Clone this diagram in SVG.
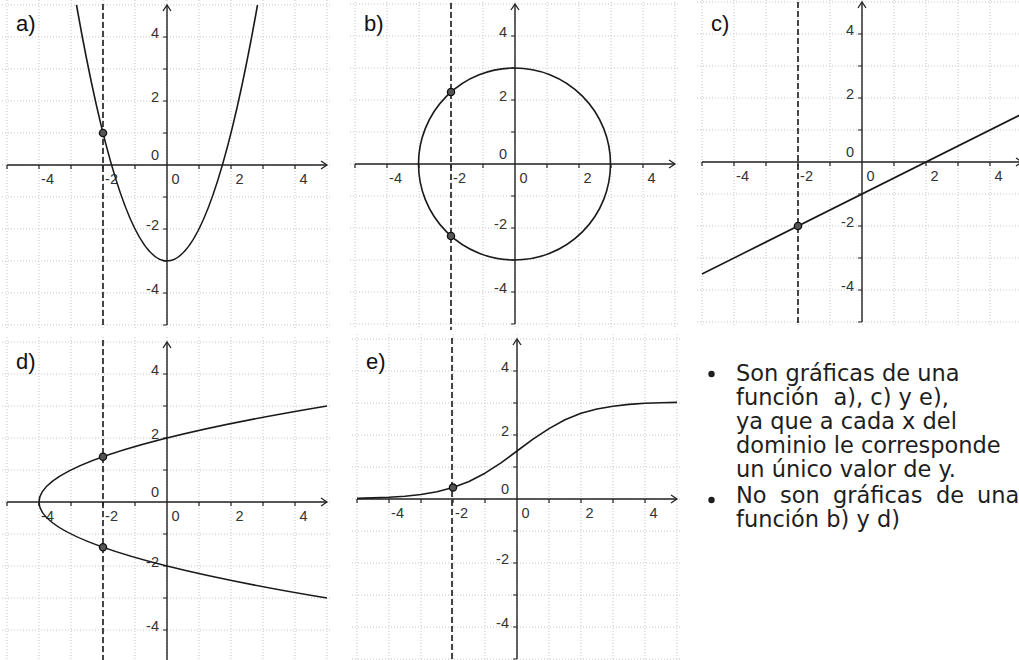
<svg xmlns="http://www.w3.org/2000/svg" width="1019" height="660" viewBox="0 0 1019 660">
<style>
.grid{fill:none;stroke:#c6c6c6;stroke-width:1;stroke-dasharray:1 2}
.axis{fill:none;stroke:#222;stroke-width:1.4}
.tick{fill:none;stroke:#222;stroke-width:1.2}
.curve{fill:none;stroke:#1a1a1a;stroke-width:1.6;stroke-linejoin:round}
.dash{fill:none;stroke:#1a1a1a;stroke-width:1.6;stroke-dasharray:6 3}
.pt{fill:#555;stroke:#111;stroke-width:1.3}
.num{font-family:"Liberation Sans",Arial,sans-serif;font-size:14.5px;fill:#333}
.xn{text-anchor:middle}
.yn{text-anchor:end}
.lbl{font-family:"Liberation Sans",Arial,sans-serif;font-size:22px;fill:#111}
.txt{font-family:"DejaVu Sans",Verdana,sans-serif;font-size:22.5px;fill:#1e1e1e}
.bul{fill:#1e1e1e}
</style>
<defs>
<marker id="arr" markerWidth="10" markerHeight="10" refX="7" refY="5" orient="auto" markerUnits="userSpaceOnUse">
<path d="M1,1 L7,5 L1,9" fill="none" stroke="#222" stroke-width="1.3"/>
</marker>
<g id="frame">
<path class="grid" d="M-160-165V165M-128-165V165M-96-165V165M-64-165V165M-32-165V165M0-165V165M32-165V165M64-165V165M96-165V165M128-165V165M160-165V165M-165-160H165M-165-128H165M-165-96H165M-165-64H165M-165-32H165M-165 0H165M-165 32H165M-165 64H165M-165 96H165M-165 128H165M-165 160H165"/>
<path class="axis" d="M-160 0H160" marker-end="url(#arr)"/>
<path class="axis" d="M0 160V-160" marker-end="url(#arr)"/>
<path class="tick" d="M-160 0v4M-128 0v4M-96 0v4M-64 0v4M-32 0v4M32 0v4M64 0v4M96 0v4M128 0v4M0 160h-4M0 128h-4M0 96h-4M0 64h-4M0 32h-4M0-32h-4M0-64h-4M0-96h-4M0-128h-4"/>
</g>
</defs>
<rect width="1019" height="660" fill="#fff"/>

<g id="panel-a">
<use href="#frame" transform="translate(167,165)"/>
<text class="lbl" x="16" y="31">a)</text>
<g class="num xn"><text x="47.5" y="184">-4</text><text x="111.5" y="184">-2</text><text x="175.5" y="184">0</text><text x="239.5" y="184">2</text><text x="303.5" y="184">4</text></g>
<g class="num yn"><text x="159" y="38">4</text><text x="159" y="102">2</text><text x="159" y="160">0</text><text x="159" y="230">-2</text><text x="159" y="294">-4</text></g>
<path class="dash" d="M103 4V327"/>
<path class="curve" d="M76.5 5Q167 517 257.5 5"/>
<circle class="pt" cx="103" cy="133" r="3.6"/>
</g>

<g id="panel-b">
<use href="#frame" transform="translate(515,164)"/>
<text class="lbl" x="364" y="31">b)</text>
<g class="num xn"><text x="395.5" y="183">-4</text><text x="459.5" y="183">-2</text><text x="523.5" y="183">0</text><text x="587.5" y="183">2</text><text x="651.5" y="183">4</text></g>
<g class="num yn"><text x="507" y="37">4</text><text x="507" y="101">2</text><text x="507" y="159">0</text><text x="507" y="229">-2</text><text x="507" y="293">-4</text></g>
<path class="dash" d="M451 3V330"/>
<circle class="curve" cx="514.5" cy="164" r="96"/>
<circle class="pt" cx="451" cy="92" r="3.6"/>
<circle class="pt" cx="451" cy="236" r="3.6"/>
</g>

<g id="panel-c">
<use href="#frame" transform="translate(862,162)"/>
<text class="lbl" x="711" y="31">c)</text>
<g class="num xn"><text x="742.5" y="181">-4</text><text x="806.5" y="181">-2</text><text x="870.5" y="181">0</text><text x="934.5" y="181">2</text><text x="998.5" y="181">4</text></g>
<g class="num yn"><text x="854" y="35">4</text><text x="854" y="99">2</text><text x="854" y="157">0</text><text x="854" y="227">-2</text><text x="854" y="291">-4</text></g>
<path class="dash" d="M798 2V326"/>
<path class="curve" d="M702 274L1022 114"/>
<circle class="pt" cx="798" cy="226" r="3.6"/>
</g>

<g id="panel-d">
<use href="#frame" transform="translate(167,502)"/>
<text class="lbl" x="16" y="369">d)</text>
<g class="num xn"><text x="47.5" y="521">-4</text><text x="111.5" y="521">-2</text><text x="175.5" y="521">0</text><text x="239.5" y="521">2</text><text x="303.5" y="521">4</text></g>
<g class="num yn"><text x="159" y="375">4</text><text x="159" y="439">2</text><text x="159" y="497">0</text><text x="159" y="567">-2</text><text x="159" y="631">-4</text></g>
<path class="dash" d="M103 340V660"/>
<path class="curve" d="M327 406Q-249 502 327 598"/>
<circle class="pt" cx="103" cy="456.7" r="3.6"/>
<circle class="pt" cx="103" cy="547.3" r="3.6"/>
</g>

<g id="panel-e">
<use href="#frame" transform="translate(517,499)"/>
<text class="lbl" x="366" y="369">e)</text>
<g class="num xn"><text x="397.5" y="518">-4</text><text x="461.5" y="518">-2</text><text x="525.5" y="518">0</text><text x="589.5" y="518">2</text><text x="653.5" y="518">4</text></g>
<g class="num yn"><text x="509" y="372">4</text><text x="509" y="436">2</text><text x="509" y="494">0</text><text x="509" y="564">-2</text><text x="509" y="628">-4</text></g>
<path class="dash" d="M452 338V660"/>
<polyline class="curve" points="357,498.4 373,497.9 389,497.3 405,496.2 421,494.5 437,491.7 453,487.6 469,481.5 485,473.2 501,462.8 517,451 533,439.2 549,428.6 565,419.8 581,413.2 597,409 613,406.2 629,404.4 645,403.3 661,402.7 677,402.4"/>
<circle class="pt" cx="453" cy="487.6" r="3.6"/>
</g>

<g id="notes">
<circle class="bul" cx="711.5" cy="374" r="3.2"/>
<circle class="bul" cx="711.5" cy="500" r="3.2"/>
<text class="txt" x="736" y="381">Son gráficas de una</text>
<text class="txt" x="736" y="405" xml:space="preserve">función  a), c) y e),</text>
<text class="txt" x="736" y="429">ya que a cada x del</text>
<text class="txt" x="736" y="453">dominio le corresponde</text>
<text class="txt" x="736" y="477">un único valor de y.</text>
<text class="txt" y="503"><tspan x="736">No</tspan><tspan x="780">son</tspan><tspan x="833">gráficas</tspan><tspan x="936">de</tspan><tspan x="977">una</tspan></text>
<text class="txt" x="736" y="527">función b) y d)</text>
</g>
</svg>
